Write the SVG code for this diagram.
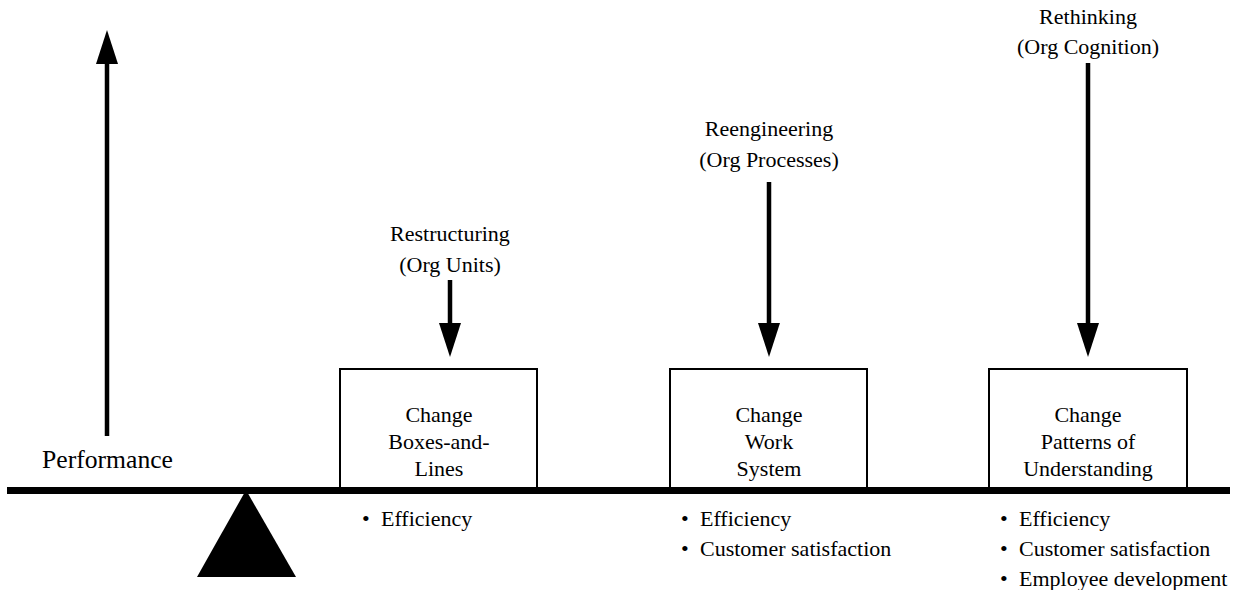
<svg xmlns="http://www.w3.org/2000/svg" width="1236" height="590" viewBox="0 0 1236 590" font-family="'Liberation Serif', 'DejaVu Serif', serif">
<style>
text{font-family:'Liberation Serif','DejaVu Serif',serif;font-size:22px;fill:#000}
.c{text-anchor:middle}
.big{font-size:25px}
.box{fill:#fff;stroke:#000;stroke-width:2}
.shaft{stroke:#000;stroke-width:4.5;fill:none}
.head{fill:#000}
</style>
<rect width="1236" height="590" fill="#fff"/>
<g id="connectors">
<line class="shaft" x1="107" y1="436" x2="107" y2="60"/>
<polygon class="head" points="107,30 96,64 118,64"/>
<line class="shaft" x1="450" y1="280" x2="450" y2="326"/>
<polygon class="head" points="450,357 439,323 461,323"/>
<line class="shaft" x1="769" y1="182" x2="769" y2="326"/>
<polygon class="head" points="769,357 758,323 780,323"/>
<line class="shaft" x1="1088" y1="63" x2="1088" y2="326"/>
<polygon class="head" points="1088,357 1077,323 1099,323"/>
</g>
<g id="beam">
<rect x="7" y="487" width="1223" height="7" fill="#000"/>
<polygon points="246,490 197,577 296,577" fill="#000"/>
</g>
<g id="performance">
<text x="42" y="468" class="big" textLength="131" lengthAdjust="spacingAndGlyphs">Performance</text>
</g>
<g id="restructuring">
<text x="450" y="241" class="c">Restructuring</text>
<text x="450" y="272" class="c">(Org Units)</text>
</g>
<g id="reengineering">
<text x="769" y="136" class="c">Reengineering</text>
<text x="769" y="167" class="c">(Org Processes)</text>
</g>
<g id="rethinking">
<text x="1088" y="24" class="c">Rethinking</text>
<text x="1088" y="54" class="c">(Org Cognition)</text>
</g>
<g id="box1">
<rect class="box" x="340" y="369" width="197" height="119"/>
<text x="439" y="422" class="c">Change</text>
<text x="439" y="449" class="c">Boxes-and-</text>
<text x="439" y="476" class="c">Lines</text>
</g>
<g id="box2">
<rect class="box" x="670" y="369" width="197" height="119"/>
<text x="769" y="422" class="c">Change</text>
<text x="769" y="449" class="c">Work</text>
<text x="769" y="476" class="c">System</text>
</g>
<g id="box3">
<rect class="box" x="989" y="369" width="198" height="119"/>
<text x="1088" y="422" class="c">Change</text>
<text x="1088" y="449" class="c">Patterns of</text>
<text x="1088" y="476" class="c">Understanding</text>
</g>
<g id="outcomes1">
<text x="362" y="526">•</text><text x="381" y="526">Efficiency</text>
</g>
<g id="outcomes2">
<text x="681" y="526">•</text><text x="700" y="526">Efficiency</text>
<text x="681" y="556">•</text><text x="700" y="556">Customer satisfaction</text>
</g>
<g id="outcomes3">
<text x="1000" y="526">•</text><text x="1019" y="526">Efficiency</text>
<text x="1000" y="556">•</text><text x="1019" y="556">Customer satisfaction</text>
<text x="1000" y="586">•</text><text x="1019" y="586">Employee development</text>
</g>
</svg>
